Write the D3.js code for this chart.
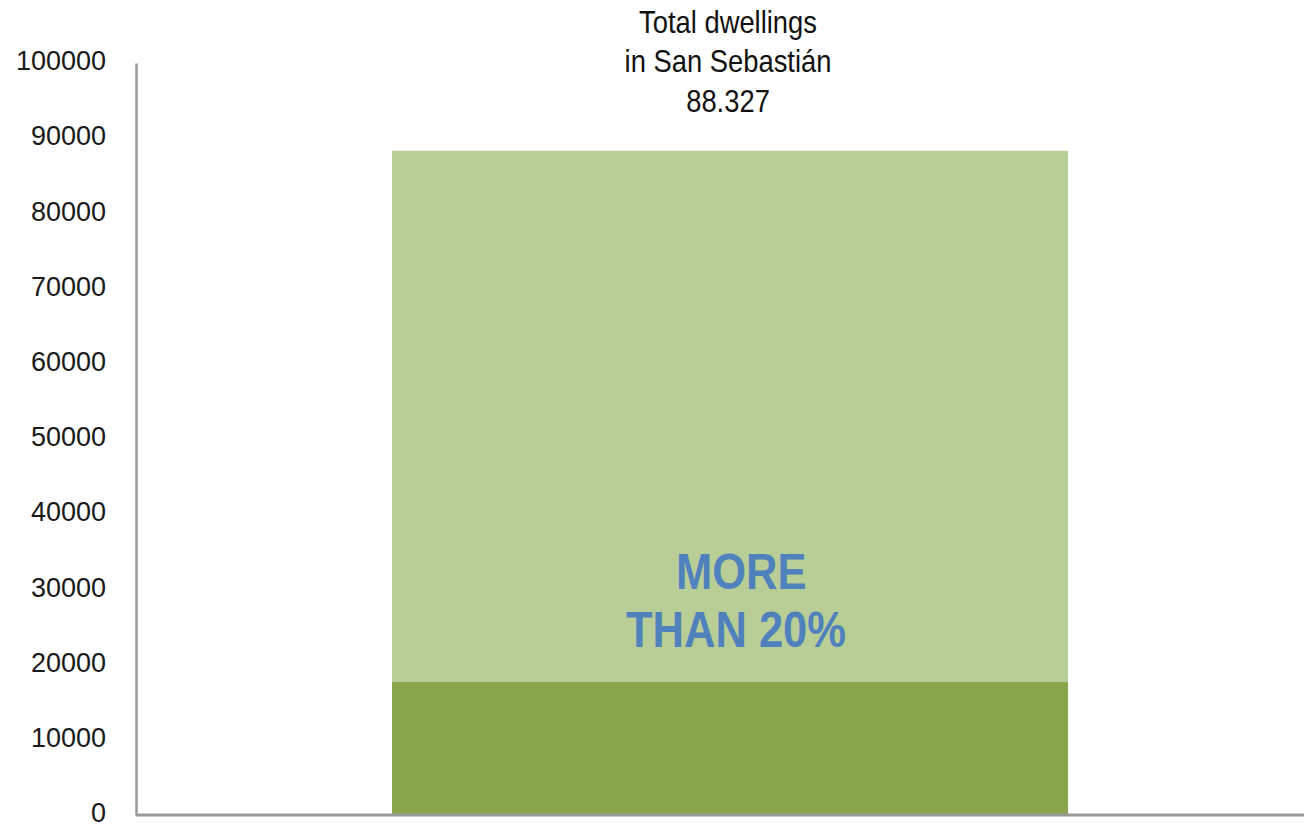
<!DOCTYPE html>
<html>
<head>
<meta charset="utf-8">
<script src="https://cdn.jsdelivr.net/npm/d3@7"></script>
<style>
    body { margin: 0; background: #fff; }
    svg { display: block; }
    .tick text { font-family: "Liberation Sans", Arial, sans-serif; font-size: 27px; fill: #1a1a1a; }
    .narrow { font-family: "Liberation Sans", Arial, sans-serif; }
</style>
</head>
<body>
<div id="chart"></div>
<script>
// data
const categories = ["San Sebastián"]
const totalDwellings = [88327]
const shareDwellings = [17665] // about 20% of the total
const yTicks = [0, 10000, 20000, 30000, 40000, 50000, 60000, 70000, 80000, 90000, 100000]
const titleLines = ["Total dwellings", "in San Sebastián", "88.327"]
const labelLines = ["MORE", "THAN 20%"]

const width = 1304
const height = 825

const svg = d3.select("#chart")
    .append("svg")
    .attr("width", width)
    .attr("height", height)

const y = d3.scaleLinear()
    .domain([0, 100000])
    .range([815, 63])

const x = d3.scaleBand()
    .domain(categories)
    .range([136, 1324])
    .paddingInner(0.2747)
    .paddingOuter(0.2747)

// bars: total (light) and the share (dark) on top of it
svg.selectAll(".total")
    .data(categories)
    .enter().append("rect")
    .attr("class", "total")
    .attr("x", d => x(d))
    .attr("width", x.bandwidth())
    .attr("y", (d, i) => y(totalDwellings[i]))
    .attr("height", (d, i) => y(0) - y(totalDwellings[i]))
    .attr("fill", "#b9ce97")

svg.selectAll(".share")
    .data(categories)
    .enter().append("rect")
    .attr("class", "share")
    .attr("x", d => x(d))
    .attr("width", x.bandwidth())
    .attr("y", (d, i) => y(shareDwellings[i]))
    .attr("height", (d, i) => y(0) - y(shareDwellings[i]))
    .attr("fill", "#89a54c")

// y axis
const yAxis = svg.append("g")
    .attr("transform", "translate(136,0)")
    .call(d3.axisLeft(y).tickValues(yTicks).tickSize(0).tickPadding(30).tickFormat(d3.format("d")))

yAxis.select(".domain")
    .attr("stroke", "#9a9a9a")
    .attr("stroke-width", 2.5)
yAxis.selectAll(".tick text").attr("dy", "0.25em")

// baseline
svg.append("line")
    .attr("x1", 136)
    .attr("x2", width)
    .attr("y1", y(0))
    .attr("y2", y(0))
    .attr("stroke", "#9a9a9a")
    .attr("stroke-width", 3)

// title above the bar (narrow font faked with a horizontal squeeze)
const cx = x(categories[0]) + x.bandwidth() / 2
svg.append("g")
    .attr("transform", `translate(${cx - 2},0) scale(0.855,1)`)
    .append("text")
    .attr("class", "narrow")
    .attr("text-anchor", "middle")
    .attr("font-size", 32)
    .attr("fill", "#111")
    .selectAll("tspan")
    .data(titleLines)
    .enter().append("tspan")
    .attr("x", 0)
    .attr("y", (d, i) => 33 + i * 39.5)
    .text(d => d)

// label inside the bar
const label = svg.append("g")
    .attr("transform", `translate(${cx + 6},0) scale(0.87,1)`)
    .append("text")
    .attr("class", "narrow")
    .attr("text-anchor", "middle")
    .attr("font-size", 50)
    .attr("font-weight", "bold")
    .attr("fill", "#4f81bd")

label.selectAll("tspan")
    .data(labelLines)
    .enter().append("tspan")
    .attr("x", (d, i) => i == 0 ? 6 : 0)
    .attr("y", (d, i) => 589 + i * 58)
    .text(d => d)
</script>
</body>
</html>
